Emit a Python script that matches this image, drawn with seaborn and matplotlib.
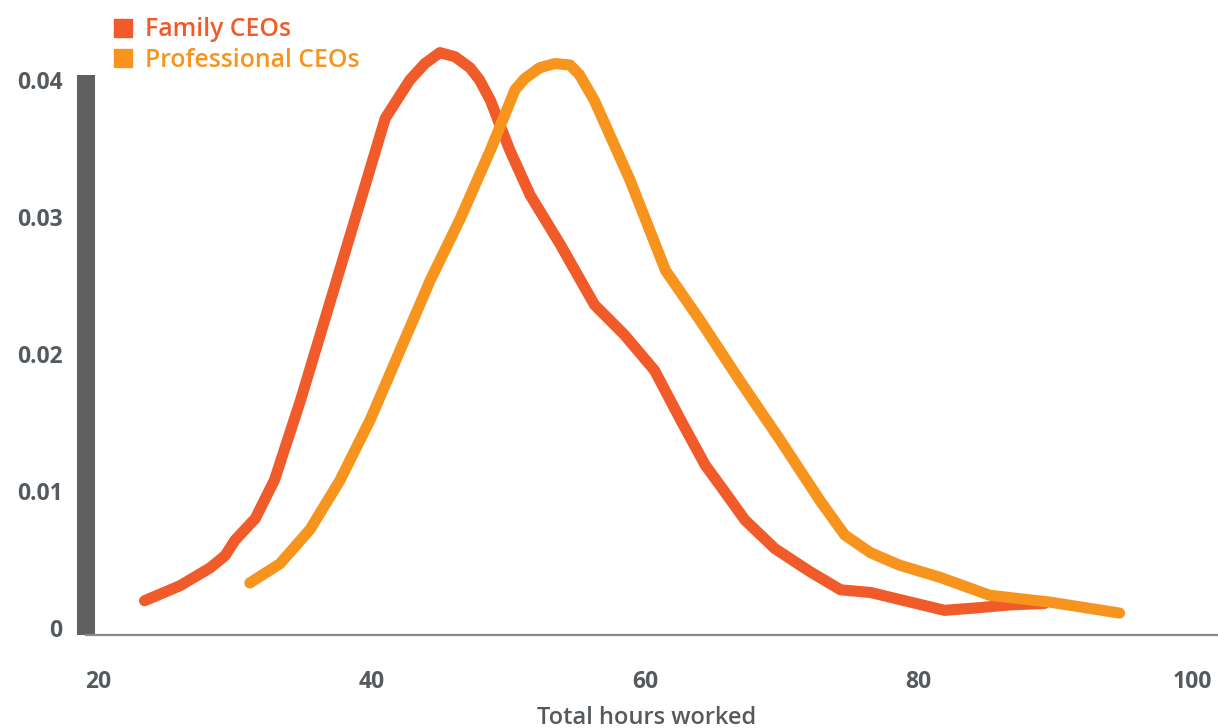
import pandas as pd
import seaborn as sns
import matplotlib.pyplot as plt
from matplotlib.lines import Line2D

# values (hours worked, density)
family_hours = [23.4, 26.0, 28.2, 29.3, 30.0, 31.5, 32.9, 34.8, 37.0, 39.2, 41.0, 42.8,
                43.9, 45.0, 46.1, 47.2, 47.9, 48.7, 50.1, 51.6, 53.8, 56.3, 58.5, 60.7,
                62.6, 64.4, 65.5, 67.3, 69.5, 72.1, 74.3, 76.5, 79.0, 81.9, 84.5, 86.7, 89.2]
family_density = [0.0020, 0.0031, 0.0044, 0.0053, 0.0064, 0.0080, 0.0108, 0.0166, 0.0239,
                  0.0312, 0.0372, 0.0400, 0.0412, 0.0420, 0.0417, 0.0409, 0.0400, 0.0385,
                  0.0349, 0.0316, 0.0280, 0.0236, 0.0214, 0.0188, 0.0152, 0.0119, 0.0104,
                  0.0079, 0.0058, 0.0041, 0.0028, 0.0026, 0.0020, 0.0013, 0.0015, 0.0017,
                  0.0018]

prof_hours = [31.1, 33.3, 35.5, 37.7, 39.9, 42.1, 44.3, 46.5, 48.7, 50.5, 51.2, 52.3,
              53.4, 54.5, 55.2, 56.3, 58.9, 61.5, 64.0, 66.9, 69.9, 72.8, 74.6, 76.5,
              78.6, 81.6, 85.2, 89.6, 94.7]
prof_density = [0.0033, 0.0047, 0.0072, 0.0108, 0.0152, 0.0203, 0.0254, 0.0299, 0.0349,
                0.0393, 0.0401, 0.0409, 0.0412, 0.0411, 0.0404, 0.0385, 0.0327, 0.0261,
                0.0225, 0.0181, 0.0137, 0.0093, 0.0068, 0.0055, 0.0046, 0.0037, 0.0024,
                0.0019, 0.0011]

x_ticks = [20, 40, 60, 80, 100]
y_ticks = [0, 0.01, 0.02, 0.03, 0.04]
y_tick_labels = ['0', '0.01', '0.02', '0.03', '0.04']

family_color = '#F15A29'
prof_color = '#F7941D'
text_color = '#555a5f'

sns.set_style('white')
plt.rcParams['font.family'] = ['Open Sans', 'DejaVu Sans']

fig = plt.figure(figsize=(12.18, 7.28), dpi=100)
# axes spans y from -0.0005 (px 635) up to 0.0445 (px ~18)
ax = fig.add_axes([86 / 1218, 93 / 728, 1132 / 1218, 616.65 / 728])

df_family = pd.DataFrame({'hours': family_hours, 'density': family_density})
df_prof = pd.DataFrame({'hours': prof_hours, 'density': prof_density})

sns.lineplot(data=df_family, x='hours', y='density', color=family_color, linewidth=8,
             solid_capstyle='round', solid_joinstyle='round', sort=False, ax=ax)
sns.lineplot(data=df_prof, x='hours', y='density', color=prof_color, linewidth=8,
             solid_capstyle='round', solid_joinstyle='round', sort=False, ax=ax)

ax.set_xlim(19.12, 101.9)
ax.set_ylim(-0.0005, 0.0445)
ax.set_xticks(x_ticks)
ax.set_yticks(y_ticks)
ax.set_yticklabels(y_tick_labels)
ax.set_xlabel('')
ax.set_ylabel('')
ax.tick_params(axis='both', length=0, labelsize=16.5, labelcolor=text_color)
ax.tick_params(axis='y', pad=17)
ax.tick_params(axis='x', pad=25)
for lab in ax.get_xticklabels() + ax.get_yticklabels():
    lab.set_fontweight('bold')

for side in ['top', 'right']:
    ax.spines[side].set_visible(False)
ax.spines['left'].set_color('#606060')
ax.spines['left'].set_linewidth(13)
ax.spines['left'].set_capstyle('butt')
ax.spines['left'].set_bounds(-0.0005, 0.0404)
ax.spines['bottom'].set_color('#8a8a8a')
ax.spines['bottom'].set_linewidth(1.6)

handles = [Line2D([], [], marker='s', linestyle='', markersize=12.5, color=family_color),
           Line2D([], [], marker='s', linestyle='', markersize=12.5, color=prof_color)]
leg = fig.legend(handles, ['Family CEOs', 'Professional CEOs'], loc='upper left',
                 bbox_to_anchor=(93 / 1218, 1 + 5 / 728), frameon=False,
                 handlelength=0.65, handletextpad=0.55, labelspacing=0.22,
                 prop={'size': 17.8, 'weight': 'semibold'})
for txt, c in zip(leg.get_texts(), [family_color, prof_color]):
    txt.set_color(c)

fig.text(647 / 1218, 1 - 718 / 728, 'Total hours worked', ha='center', va='center',
         fontsize=17, color=text_color, fontweight='semibold')

fig.savefig('out.png', dpi=100)
